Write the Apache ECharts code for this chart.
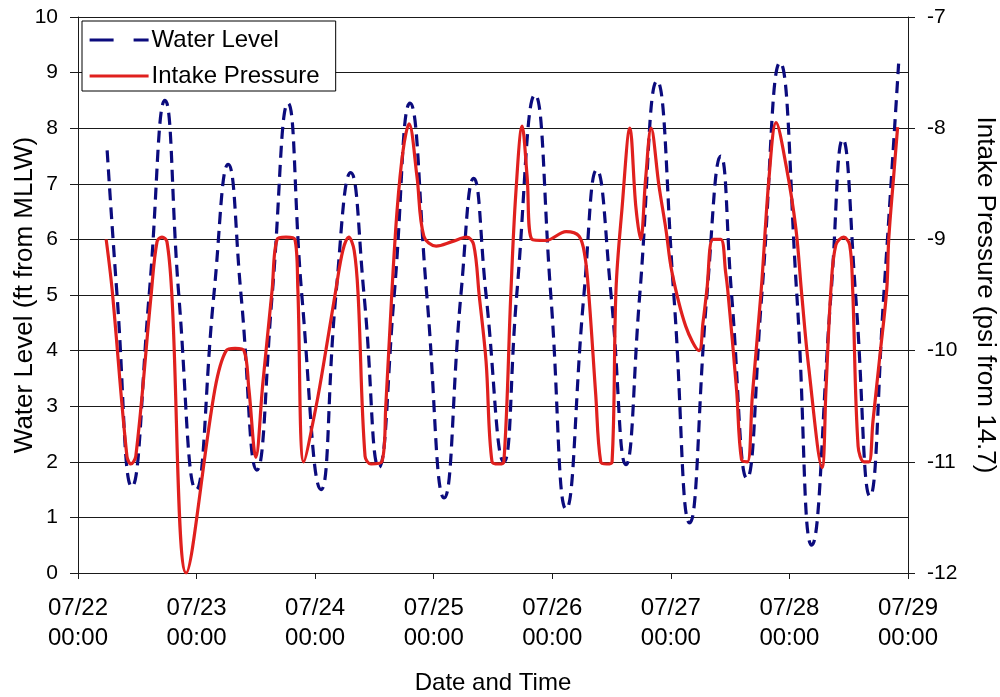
<!DOCTYPE html>
<html>
<head>
<meta charset="utf-8">
<script src="https://cdn.jsdelivr.net/npm/echarts@6/dist/echarts.min.js"></script>
<style>
  html, body { margin: 0; padding: 0; background: #fff; }
  #chart { width: 1000px; height: 697px; }
</style>
</head>
<body>
<div id="chart"></div>
<script>
// Tick labels for the time axis (one per day, hours since 07/22 00:00)
const dayLabels = ['07/22\n00:00', '07/23\n00:00', '07/24\n00:00', '07/25\n00:00',
                   '07/26\n00:00', '07/27\n00:00', '07/28\n00:00', '07/29\n00:00'];

// Tidal water level (ft from MLLW)
const levelHours = [5.9, 7.9, 10.9, 14.4, 17.6, 20.4, 23.9, 27.5, 30.4, 33.0, 36.2, 39.3,
                    42.5, 45.3, 49.2, 52.2, 55.2, 57.9, 60.9, 64.0, 67.2, 70.6, 74.1, 77.5,
                    80.1, 82.6, 86.2, 88.8, 92.5, 95.7, 98.8, 102.4, 105.0, 107.9, 110.9, 113.7,
                    117.2, 120.6, 123.8, 127.3, 130.1, 132.3, 135.4, 138.4, 142.1, 145.5, 148.5,
                    152.4, 154.8, 157.4, 160.3, 163.1, 166.1];
const levelFt = [7.6, 5.0, 1.55, 5.0, 8.5, 5.0, 1.5, 5.0, 7.35, 5.0, 1.85, 5.0,
                 8.45, 5.0, 1.5, 5.0, 7.2, 5.0, 1.9, 5.0, 8.45, 5.0, 1.35, 5.0,
                 7.1, 5.0, 2.0, 5.0, 8.6, 5.0, 1.15, 5.0, 7.25, 5.0, 1.95, 5.0,
                 8.85, 5.0, 0.9, 5.0, 7.5, 5.0, 1.7, 5.0, 9.18, 5.0, 0.5,
                 5.0, 7.8, 5.0, 1.38, 5.0, 9.16];

// Intake pressure (psi from 14.7)
const pressureHours = [5.7, 6.9, 9.9, 10.7, 11.7, 14.8, 16.0, 17.0, 18.0, 19.0, 21.9, 27.7,
                       30.0, 31.8, 33.6, 34.6, 36.0, 37.4, 39.3, 40.3, 42.1, 43.9, 44.5, 45.7,
                       48.2, 50.2, 52.2, 53.6, 54.8, 55.9, 56.7, 58.1, 59.3, 61.5, 62.3, 63.5,
                       64.6, 65.8, 67.0, 68.6, 70.0, 72.5, 75.7, 78.7, 80.1, 81.2, 82.6, 83.8,
                       85.2, 86.2, 87.6, 88.6, 89.9, 90.9, 91.9, 94.7, 98.8, 101.4, 102.6, 103.4,
                       104.8, 105.8, 107.0, 108.1, 108.9, 110.1, 111.7, 112.9, 113.9, 114.9, 116.0,
                       117.6, 119.0, 120.2, 123.0, 125.7, 126.5, 127.3, 128.5, 130.1, 131.1, 131.5,
                       133.3, 134.3, 135.5, 136.5, 138.3, 139.9, 141.3, 143.3, 145.3, 146.5, 147.9,
                       150.6, 151.4, 152.4, 153.4, 155.0, 156.2, 156.8, 157.9, 159.1, 160.1, 160.9,
                       162.3, 163.7, 164.1, 165.1, 165.9];
const pressurePsi = [-9.0, -9.45, -10.95, -11.02, -10.95, -9.5, -9.02, -8.98, -9.02, -9.5, -12.0, -10.35,
                     -10.0, -9.98, -10.0, -10.35, -10.96, -10.3, -9.45, -9.0, -8.98, -9.0, -9.45, -11.0,
                     -10.5, -9.99, -9.45, -9.1, -8.98, -9.1, -9.5, -10.95, -11.02, -11.0, -10.5, -9.5,
                     -8.73, -8.2, -7.96, -8.43, -8.97, -9.06, -9.02, -8.98, -9.05, -9.5, -10.1, -11.0,
                     -11.02, -11.0, -9.5, -8.6, -7.98, -8.43, -9.0, -9.01, -8.93, -8.97, -9.15, -9.5,
                     -10.4, -11.0, -11.02, -11.0, -9.45, -8.73, -8.0, -8.7, -9.0, -8.45, -8.0,
                     -8.52, -8.91, -9.29, -9.78, -10.0, -9.75, -9.45, -9.0, -9.0, -9.3, -9.45,
                     -10.35, -10.98, -11.0, -10.4, -9.45, -8.43, -7.95, -8.33, -8.9, -9.5, -10.15,
                     -11.05, -10.35, -9.45, -9.05, -8.98, -9.05, -9.45, -10.86, -11.0, -11.0, -10.64,
                     -10.05, -9.45, -9.0, -8.43, -7.99];

const FONT = 'Liberation Sans, Arial, sans-serif';
const AXIS_COLOR = '#1a1a1a';
const NAVY = '#0b0b7d';
const RED = '#e0201e';

const levelData = levelHours.map((h, i) => [h, levelFt[i]]);
const pressureData = pressureHours.map((h, i) => [h, pressurePsi[i]]);

const chart = echarts.init(document.getElementById('chart'), null, { renderer: 'canvas' });

chart.setOption({
  backgroundColor: '#ffffff',
  animation: false,
  textStyle: { fontFamily: FONT, color: '#000' },
  grid: { left: 78, right: 92, top: 17, bottom: 124, containLabel: false, outerBoundsMode: 'none' },
  legend: {
    orient: 'vertical',
    left: 82,
    top: 21,
    padding: [7, 16, 3, 6],
    itemWidth: 59,
    itemHeight: 20,
    itemGap: 12,
    borderColor: '#000',
    borderWidth: 1,
    backgroundColor: '#fff',
    // line-only keys: hide the marker drawn in the middle of each key
    itemStyle: { opacity: 0 },
    textStyle: { fontFamily: FONT, fontSize: 24, color: '#000', padding: [0, 0, 0, -2] },
    data: [
      { name: 'Water Level', lineStyle: { color: NAVY, type: [24, 20], width: 3.2 } },
      { name: 'Intake Pressure', lineStyle: { color: RED, width: 3.2 } }
    ]
  },
  xAxis: {
    type: 'value',
    min: 0,
    max: 168,
    interval: 24,
    name: 'Date and Time',
    nameLocation: 'middle',
    nameGap: 98,
    nameMoveOverlap: false,
    nameTextStyle: { fontFamily: FONT, fontSize: 24, color: '#000' },
    axisLine: { show: true, lineStyle: { color: AXIS_COLOR, width: 1 } },
    axisTick: { show: true, length: 6, lineStyle: { color: AXIS_COLOR } },
    splitLine: { show: false },
    axisLabel: {
      margin: 20,
      fontFamily: FONT,
      fontSize: 24,
      lineHeight: 30,
      color: '#000',
      formatter: v => dayLabels[Math.round(v / 24)]
    }
  },
  yAxis: [
    {
      type: 'value',
      min: 0,
      max: 10,
      interval: 1,
      name: 'Water Level (ft from MLLW)',
      nameLocation: 'middle',
      nameGap: 40,
      nameMoveOverlap: false,
      nameTextStyle: { fontFamily: FONT, fontSize: 26, color: '#000' },
      axisLine: { show: true, lineStyle: { color: AXIS_COLOR, width: 1 } },
      axisTick: { show: true, length: 8, lineStyle: { color: AXIS_COLOR } },
      splitLine: { show: true, lineStyle: { color: '#1a1a1a', width: 1 } },
      axisLabel: { margin: 20, fontFamily: FONT, fontSize: 21, color: '#000' }
    },
    {
      type: 'value',
      min: -12,
      max: -7,
      interval: 1,
      position: 'right',
      name: 'Intake Pressure (psi from 14.7)',
      nameLocation: 'middle',
      nameRotate: -90,
      nameGap: 64,
      nameMoveOverlap: false,
      nameTextStyle: { fontFamily: FONT, fontSize: 26, color: '#000' },
      axisLine: { show: true, lineStyle: { color: AXIS_COLOR, width: 1 } },
      axisTick: { show: true, length: 7, lineStyle: { color: AXIS_COLOR } },
      splitLine: { show: false },
      axisLabel: { margin: 19, fontFamily: FONT, fontSize: 21, color: '#000' }
    }
  ],
  series: [
    {
      name: 'Water Level',
      type: 'line',
      yAxisIndex: 0,
      data: levelData,
      smooth: 0.5,
      symbol: 'none',
      color: NAVY,
      lineStyle: { color: NAVY, width: 3.2, type: [12, 7] }
    },
    {
      name: 'Intake Pressure',
      type: 'line',
      yAxisIndex: 1,
      data: pressureData,
      smooth: 0.35,
      symbol: 'none',
      color: RED,
      lineStyle: { color: RED, width: 3.2 }
    }
  ]
});
</script>
</body>
</html>
